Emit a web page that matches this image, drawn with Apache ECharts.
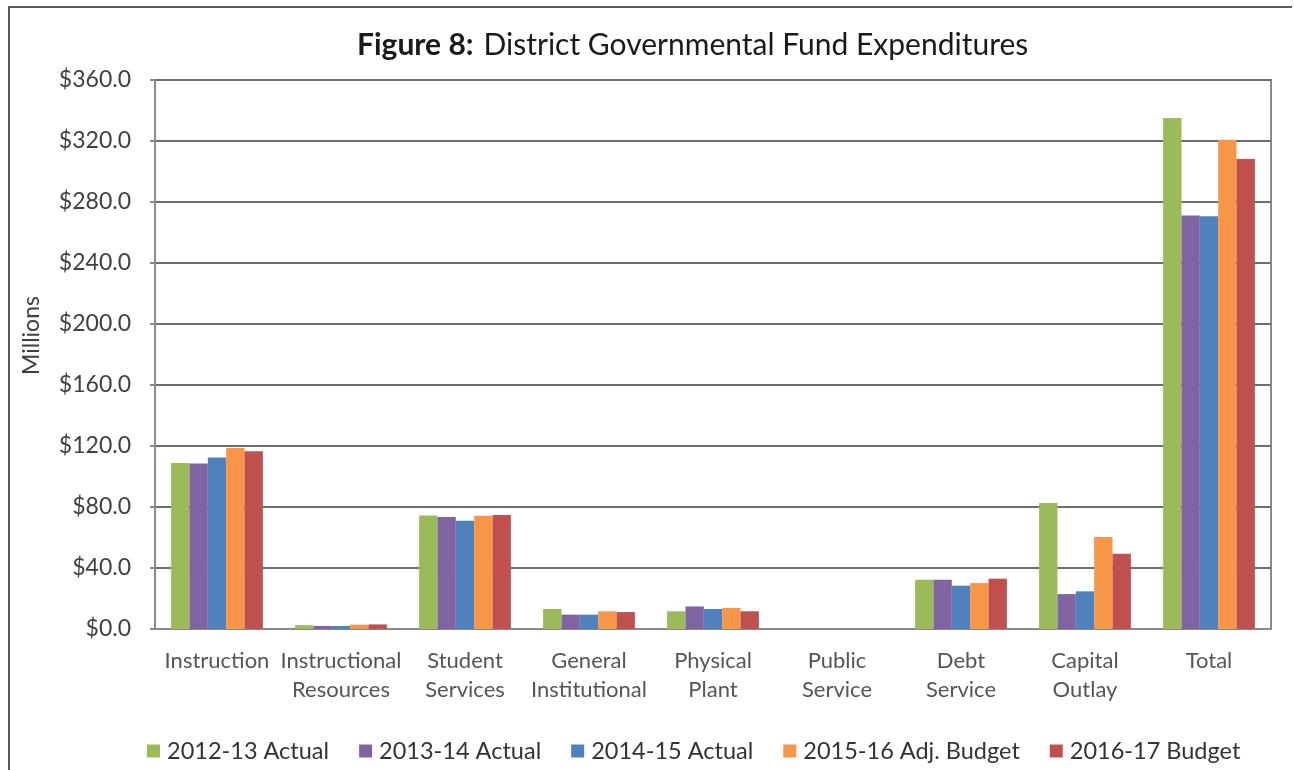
<!DOCTYPE html>
<html>
<head>
<meta charset="utf-8">
<script src="https://cdn.jsdelivr.net/npm/echarts@6/dist/echarts.min.js"></script>
<style>
  html, body { margin: 0; padding: 0; background: #fff; }
  #chart { width: 1294px; height: 770px; }
</style>
</head>
<body>
<div id="chart"></div>
<script>
// Expenditure categories along the x axis
const categories = [
  'Instruction', 'Instructional\nResources', 'Student\nServices', 'General\nInstitutional',
  'Physical\nPlant', 'Public\nService', 'Debt\nService', 'Capital\nOutlay', 'Total'
];

// Fiscal-year series names
const seriesNames = ['2012-13 Actual', '2013-14 Actual', '2014-15 Actual', '2015-16 Adj. Budget', '2016-17 Budget'];

// Expenditures in millions of dollars, one array per fiscal year
const fy2012 = [108.9, 2.5, 74.5, 13.1, 11.6, 0, 32.3, 82.6, 335.1];
const fy2013 = [108.6, 2.0, 73.4, 9.4, 14.8, 0, 32.3, 22.9, 271.2];
const fy2014 = [112.5, 2.0, 71.0, 9.4, 13.1, 0, 28.4, 24.7, 270.6];
const fy2015 = [118.7, 2.8, 74.3, 11.6, 13.8, 0, 30.1, 60.3, 320.9];
const fy2016 = [116.5, 3.0, 74.8, 11.1, 11.6, 0, 33.0, 49.4, 308.2];

// Value axis ticks
const yMin = 0, yMax = 360, yStep = 40;

const seriesData = [fy2012, fy2013, fy2014, fy2015, fy2016];
const colors = ['#9BBB59', '#8064A2', '#4F81BD', '#F79646', '#C0504D'];

const FONT = 'Lato, "Open Sans", sans-serif';

const chart = echarts.init(document.getElementById('chart'));

chart.setOption({
  animation: false,
  color: colors,
  title: {
    text: '{b|Figure 8:}  {n|District Governmental Fund Expenditures}',
    left: 352,
    top: 25,
    textStyle: {
      fontWeight: 'normal',
      rich: {
        b: { fontFamily: FONT, fontSize: 30, fontWeight: 'bold', color: '#1a1a1a' },
        n: { fontFamily: FONT, fontSize: 30, fontWeight: 'normal', color: '#1a1a1a' }
      }
    }
  },
  legend: {
    top: 734,
    left: 142,
    itemWidth: 13,
    itemHeight: 13,
    itemGap: 30,
    icon: 'rect',
    textStyle: { fontFamily: FONT, fontSize: 23.5, color: '#333', padding: [0, 0, 0, 2] },
    data: seriesNames
  },
  grid: {
    left: 155, right: 23, top: 80, bottom: 141,
    show: true,
    borderColor: '#8a8a8a',
    borderWidth: 2
  },
  xAxis: {
    type: 'category',
    data: categories,
    axisLine: { lineStyle: { color: '#8a8a8a', width: 2 } },
    axisTick: { show: false },
    axisLabel: {
      fontFamily: FONT, fontSize: 22, color: '#555', lineHeight: 29, margin: 17, interval: 0
    }
  },
  yAxis: {
    type: 'value',
    min: yMin, max: yMax, interval: yStep,
    name: 'Millions',
    nameLocation: 'middle',
    nameGap: 112,
    nameTextStyle: { fontFamily: FONT, fontSize: 23, color: '#404040', padding: [0, 0, 0, 38] },
    axisLine: { show: true, lineStyle: { color: '#8a8a8a', width: 2 } },
    axisTick: { show: true, length: 5, lineStyle: { color: '#8a8a8a', width: 2 } },
    splitLine: { lineStyle: { color: '#6e6e6e', width: 2 } },
    axisLabel: {
      fontFamily: FONT, fontSize: 23, color: '#404040', margin: 24,
      formatter: v => '$' + v.toFixed(1)
    }
  },
  graphic: [
    {
      type: 'polyline',
      shape: { points: [[9, 770], [9, 7], [1292, 7]] },
      style: { stroke: '#5a5a5a', lineWidth: 2, fill: null }
    }
  ],
  series: seriesNames.map((name, i) => ({
    name,
    type: 'bar',
    data: seriesData[i],
    barGap: '0%',
    barCategoryGap: '26%'
  }))
});
</script>
</body>
</html>
